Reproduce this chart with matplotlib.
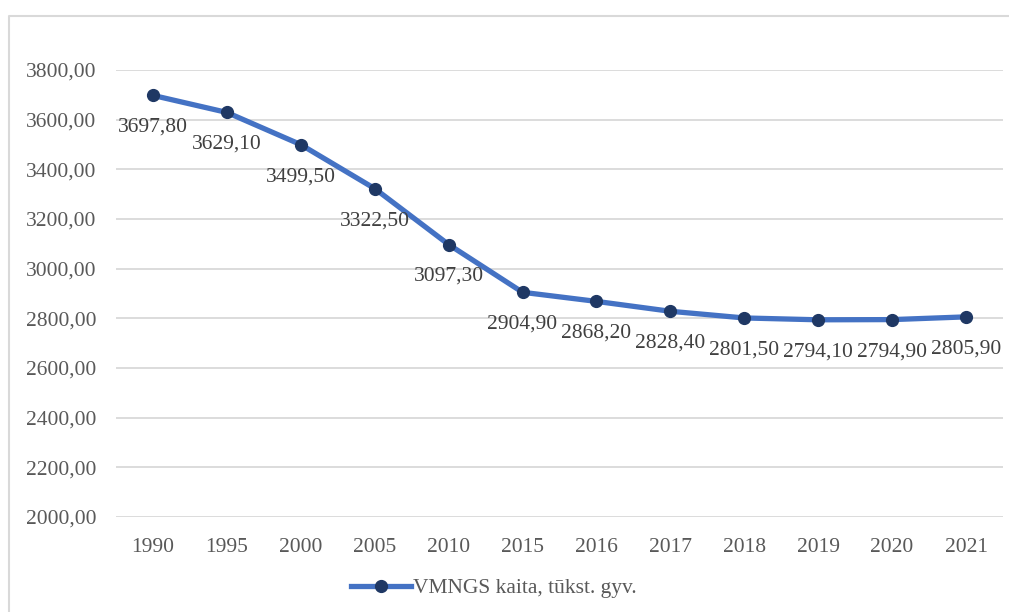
import matplotlib
matplotlib.use("Agg")
import matplotlib.pyplot as plt
from matplotlib.lines import Line2D

years = ["1990", "1995", "2000", "2005", "2010", "2015", "2016", "2017", "2018", "2019", "2020", "2021"]
values = [3697.8, 3629.1, 3499.5, 3322.5, 3097.3, 2904.9, 2868.2, 2828.4, 2801.5, 2794.1, 2794.9, 2805.9]
yticks = [2000, 2200, 2400, 2600, 2800, 3000, 3200, 3400, 3600, 3800]
series_name = "VMNGS kaita, tūkst. gyv."

W, H = 1009, 612
fig = plt.figure(figsize=(W / 100, H / 100), dpi=100)
plt.rcParams['font.family'] = ['Liberation Serif', 'DejaVu Serif']

# outer chart border: only top and left edges fall inside the picture
fig.add_artist(Line2D([9 / W, 9 / W, 1.0], [0.0, 1 - 16 / H, 1 - 16 / H],
                      transform=fig.transFigure, color='#D9D9D9', linewidth=1.5))

ax = fig.add_axes([116 / W, 1 - 517 / H, (1003 - 116) / W, (517 - 70) / H])
x = list(range(len(years)))
ax.plot(x, values, color='#4472C4', linewidth=3.8, marker='o', markersize=8.5,
        markerfacecolor='#1F3864', markeredgecolor='#1F3864', zorder=3)

for xi, v in zip(x, values):
    ax.annotate(f"{v:.2f}".replace('.', ','), (xi, v), xytext=(0, -32),
                textcoords='offset pixels', ha='center', va='center',
                fontsize=15.5, color='#404040')

ax.set_xlim(-0.5, len(years) - 0.5)
ax.set_ylim(2000, 3800)
ax.set_yticks(yticks)
ax.set_yticklabels([f"{t},00" for t in yticks])
ax.set_xticks(x)
ax.set_xticklabels(years)
ax.tick_params(axis='both', length=0, labelsize=15.5, labelcolor='#595959')
ax.tick_params(axis='y', pad=14)
ax.tick_params(axis='x', pad=15)
ax.grid(axis='y', color='#D9D9D9', linewidth=1.3)
ax.set_axisbelow(True)
for s in ax.spines.values():
    s.set_visible(False)

handle = Line2D([], [], color='#4472C4', linewidth=3.8, marker='o', markersize=8.5,
                markerfacecolor='#1F3864', markeredgecolor='#1F3864')
fig.legend([handle], [series_name], loc='center', bbox_to_anchor=(494 / W, 1 - 588 / H),
           frameon=False, fontsize=15.5, labelcolor='#595959', handlelength=2.8,
           handletextpad=0.1)

fig.savefig("out.png", dpi=100)
